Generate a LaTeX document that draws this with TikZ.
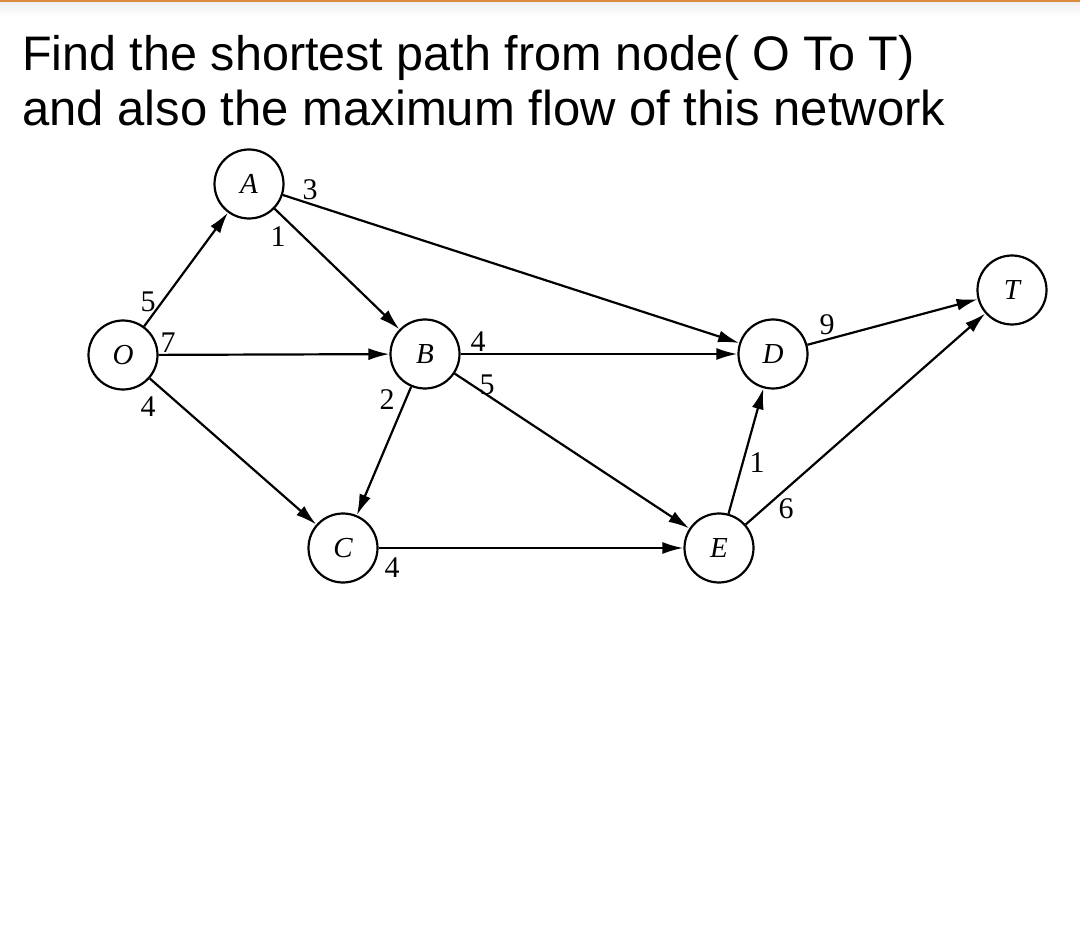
\documentclass[tikz,border=0pt]{standalone}
\usepackage{fontspec}
\setmainfont{Liberation Serif}
\newfontfamily\titlefont{Liberation Sans}
\usetikzlibrary{arrows.meta}
\definecolor{topbar}{HTML}{D98B3F}
\begin{document}
    \begin{tikzpicture}[x=1pt,y=-1pt,
        vertex/.style={draw,circle,line width=2.2pt,minimum size=69pt,inner sep=0pt,
            font=\fontsize{29}{29}\selectfont\itshape},
        wt/.style={inner sep=0pt,font=\fontsize{30}{30}\selectfont},
        arc/.style={line width=2.2pt,-{Latex[length=21pt,width=12pt]}}]
        \useasboundingbox (0,0) rectangle (1080,925);
        \fill[white] (0,0) rectangle (1080,925);
        \shade[top color=black!6,bottom color=white] (0,2.5) rectangle (1080,16);
        \fill[topbar] (0,0) rectangle (1080,2.5);
        \node[anchor=base west,inner sep=0pt,font=\titlefont\fontsize{48.5}{48.5}\selectfont] (line1) at (22,71) {Find the shortest path from node( O To T)};
        \node[anchor=base west,inner sep=0pt,font=\titlefont\fontsize{49}{49}\selectfont] (line2) at (22,126) {and also the maximum flow of this network};
        \node[vertex] (O) at (123,355) {O};
        \node[vertex] (A) at (249,184) {A};
        \node[vertex] (B) at (425,354) {B};
        \node[vertex] (C) at (343,548) {C};
        \node[vertex] (D) at (773,354) {D};
        \node[vertex] (E) at (719,548) {E};
        \node[vertex] (T) at (1012,290) {T};
        \draw[arc] (O) -- (A);
        \draw[arc] (O) -- (B);
        \draw[arc] (O) -- (C);
        \draw[arc] (A) -- (B);
        \draw[arc] (A) -- (D);
        \draw[arc] (B) -- (D);
        \draw[arc] (B) -- (C);
        \draw[arc] (B) -- (E);
        \draw[arc] (C) -- (E);
        \draw[arc] (E) -- (D);
        \draw[arc] (E) -- (T);
        \draw[arc] (D) -- (T);
        \node[wt] (wOA) at (148,302) {5};
        \node[wt] (wOB) at (168,343) {7};
        \node[wt] (wOC) at (148,407) {4};
        \node[wt] (wAD) at (310,190) {3};
        \node[wt] (wAB) at (278,237) {1};
        \node[wt] (wBD) at (478,342) {4};
        \node[wt] (wBE) at (487,385) {5};
        \node[wt] (wBC) at (387,400) {2};
        \node[wt] (wCE) at (392,568) {4};
        \node[wt] (wED) at (757,463) {1};
        \node[wt] (wET) at (786,509) {6};
        \node[wt] (wDT) at (827,325) {9};
    \end{tikzpicture}
\end{document}
